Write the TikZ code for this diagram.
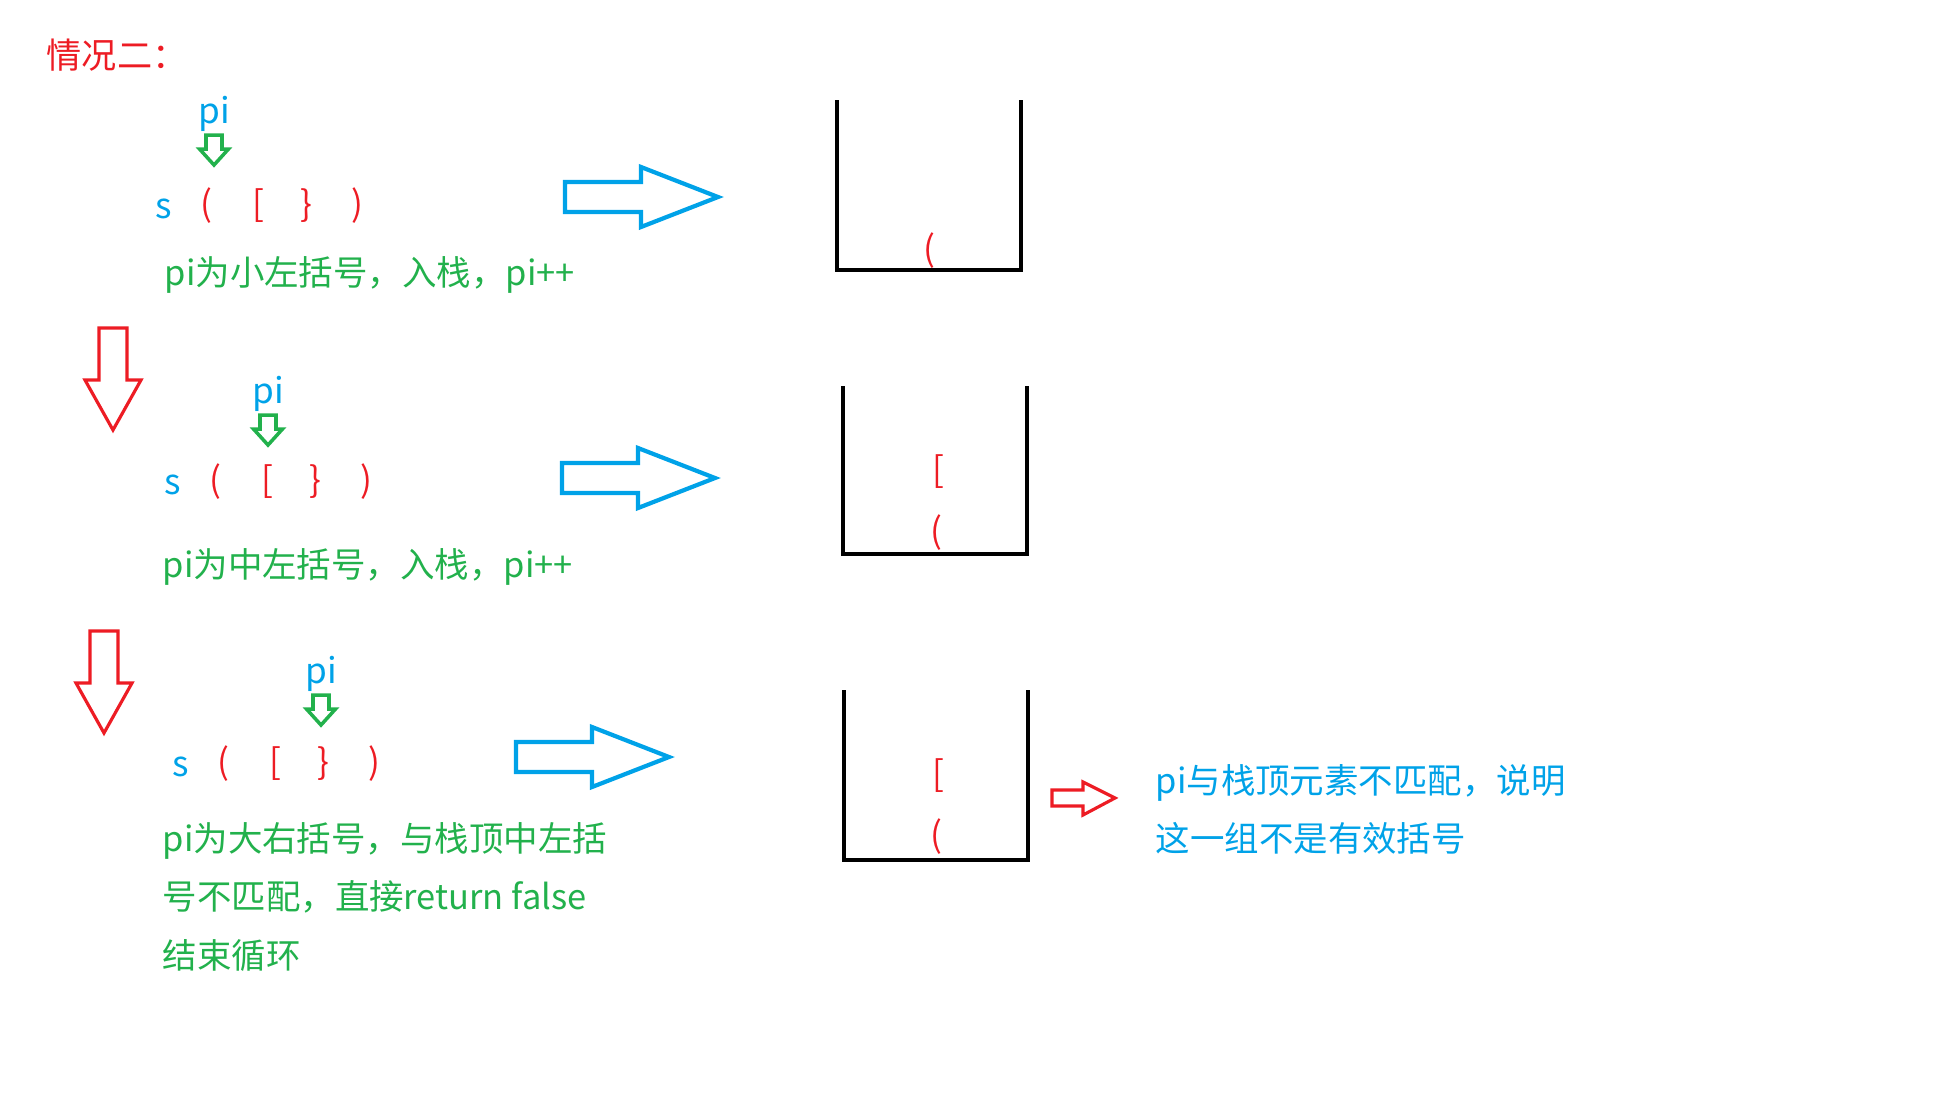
\documentclass[tikz,border=0pt]{standalone}
\usepackage{fontspec}
\setmainfont{Noto Sans CJK SC}
\definecolor{paintred}{RGB}{237,28,36}
\definecolor{paintgreen}{RGB}{34,177,76}
\definecolor{paintblue}{RGB}{0,162,232}

\begin{document}
\begin{tikzpicture}[x=0.01cm, y=-0.01cm,
    every node/.style={inner sep=0pt, font=\fontsize{10}{16.5}\selectfont},
    notefont/.style={font=\fontsize{9.8}{16.5}\selectfont},
    redtext/.style={text=paintred},
    greentext/.style={text=paintgreen},
    bluetext/.style={text=paintblue},
    bluearrow/.style={draw=paintblue, line width=1.2pt},
    greenarrow/.style={draw=paintgreen, line width=1pt},
    redarrow/.style={draw=paintred, line width=0.9pt},
    stackline/.style={draw=black, line width=1.2pt}]
        \useasboundingbox (0,0) rectangle (1936,1096);
        % Title
        \node[redtext, anchor=west] (title) at (46,55) {情况二：};
        % The three rows: string s, its brackets, pi with its pointer
        \foreach \r/\sx/\by/\px/\py in {1/164/218/214/123, 2/173/494/268/403, 3/181/776/321/683} {
            % Draw the string name
            \node[bluetext, anchor=base] (s\r) at (\sx,\by) {s};
            % Draw the four brackets
            \foreach \j/\br/\dx in {1/{(}/42, 2/{[}/94, 3/{\}}/142, 4/{)}/193} {
                \node[redtext, anchor=base] (br\r\j) at (\sx+\dx,\by-2) {\br};
              }
            % Draw pi and the green pointer under it
            \node[bluetext, anchor=base] (pi\r) at (\px,\py) {pi};
            \draw[greenarrow] (\px-8,\py+12) -- ++(16,0) -- ++(0,14) -- ++(6.5,0) -- (\px,\py+42)
                -- (\px-14.5,\py+26) -- ++(6.5,0) -- cycle;
          }
        % Explanations under each row
        \node[greentext, notefont, anchor=west] (note1) at (164,275) {pi为小左括号，入栈，pi++};
        \node[greentext, notefont, anchor=west] (note2) at (162,567) {pi为中左括号，入栈，pi++};
        \node[greentext, notefont, anchor=west, align=left] (note3) at (162,897)
            {pi为大右括号，与栈顶中左括\\号不匹配，直接return false\\结束循环};
        % Red arrows between the rows
        \foreach \cx/\ty in {113/328, 104/631} {
            \draw[redarrow] (\cx-14,\ty) -- ++(28,0) -- ++(0,52) -- ++(14,0) -- (\cx,\ty+102)
                -- (\cx-28,\ty+52) -- ++(14,0) -- cycle;
          }
        % Blue arrows towards the stacks
        \foreach \ax/\ay in {565/197, 562/478, 516/757} {
            \draw[bluearrow] (\ax,\ay-15) -- ++(76,0) -- ++(0,-15) -- ++(77,30) -- ++(-77,30)
                -- ++(0,-15) -- ++(-76,0) -- cycle;
          }
        % Stacks
        \foreach \i/\l/\t/\b in {1/837/100/270, 2/843/386/554, 3/844/690/860} {
            \draw[stackline] (\l,\t) -- (\l,\b) -- (\l+184,\b) -- (\l+184,\t);
          }
        % Stack contents
        \node[redtext, anchor=base] (pa1) at (929,261) {(};
        \foreach \i/\dy in {2/0, 3/304} {
            \node[redtext, anchor=base] (sq\i) at (938,482+\dy) {[};
            \node[redtext, anchor=base] (pa\i) at (936,543+\dy) {(};
          }
        % Conclusion
        \draw[redarrow] (1052,790) -- ++(31,0) -- ++(0,-8) -- (1115,798) -- (1083,815) -- ++(0,-9)
            -- (1052,806) -- cycle;
        \node[bluetext, notefont, anchor=west, align=left] (verdict) at (1155,809)
            {pi与栈顶元素不匹配，说明\\这一组不是有效括号};
      \end{tikzpicture}
\end{document}
